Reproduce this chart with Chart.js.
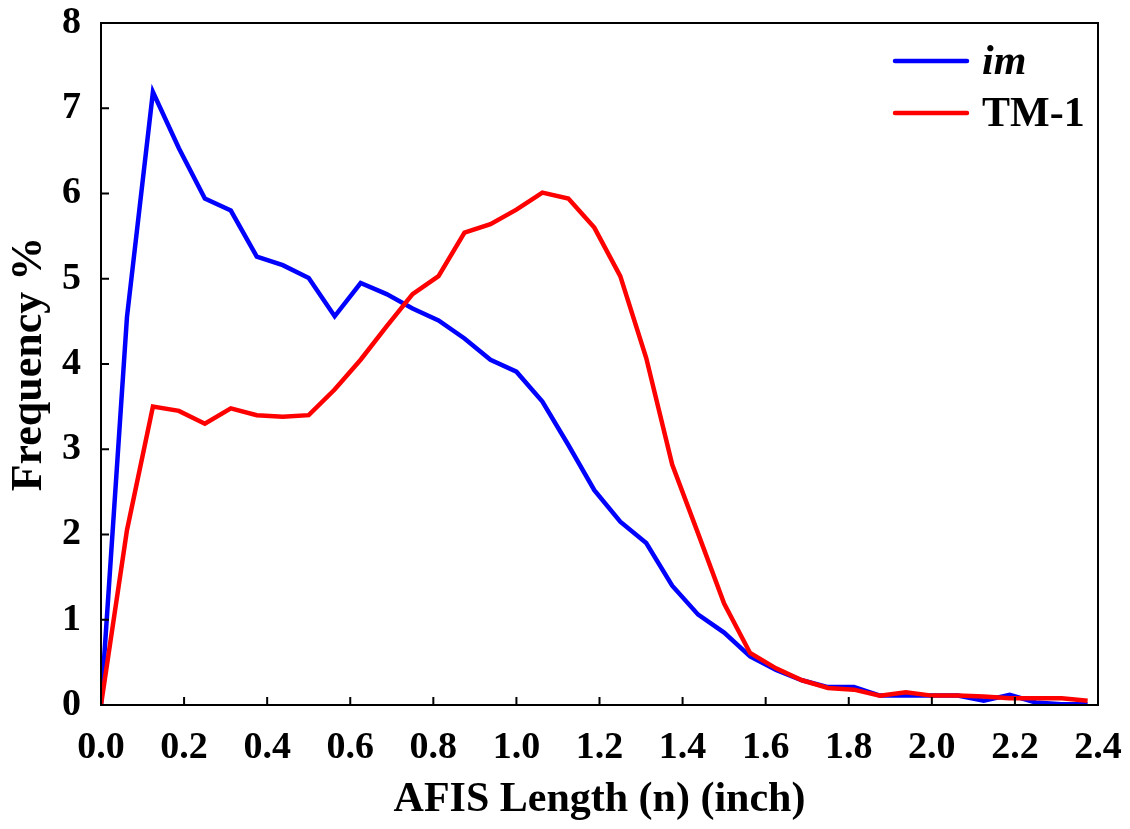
<!DOCTYPE html>
<html>
<head>
<meta charset="utf-8">
<script src="https://cdn.jsdelivr.net/npm/chart.js@4.4.1/dist/chart.umd.min.js"></script>
<style>
  html, body { margin: 0; padding: 0; background: #fff; }
  #wrap { width: 1130px; height: 829px; }
</style>
</head>
<body>
<div id="wrap"><canvas id="afis-chart" width="1130" height="829"></canvas></div>
<script>
// AFIS length bins (inch), 1/16 inch steps
const lengthBins = [0, 0.0625, 0.125, 0.1875, 0.25, 0.3125, 0.375, 0.4375, 0.5, 0.5625,
    0.625, 0.6875, 0.75, 0.8125, 0.875, 0.9375, 1.0, 1.0625, 1.125, 1.1875,
    1.25, 1.3125, 1.375, 1.4375, 1.5, 1.5625, 1.625, 1.6875, 1.75, 1.8125,
    1.875, 1.9375, 2.0, 2.0625, 2.125, 2.1875, 2.25, 2.3125, 2.375];

const imFreq = [0, 4.55, 7.19, 6.53, 5.94, 5.80, 5.26, 5.16, 5.01, 4.56,
    4.95, 4.82, 4.65, 4.51, 4.30, 4.05, 3.91, 3.56, 3.05, 2.52,
    2.15, 1.90, 1.40, 1.06, 0.85, 0.57, 0.41, 0.29, 0.21, 0.21,
    0.11, 0.11, 0.11, 0.11, 0.05, 0.12, 0.03, 0.01, 0.01];

const tm1Freq = [0, 2.05, 3.50, 3.45, 3.30, 3.48, 3.40, 3.38, 3.40, 3.70,
    4.05, 4.44, 4.82, 5.03, 5.54, 5.64, 5.81, 6.01, 5.94, 5.60,
    5.03, 4.07, 2.82, 2.01, 1.19, 0.61, 0.43, 0.29, 0.20, 0.18,
    0.11, 0.15, 0.11, 0.11, 0.10, 0.08, 0.08, 0.08, 0.05];

const seriesLabels = ['im', 'TM-1'];
const seriesColors = ['#0000ff', '#ff0000'];

const xTitle = 'AFIS Length (n) (inch)';
const yTitle = 'Frequency %';

const serif = '"Liberation Serif", "Times New Roman", "DejaVu Serif", serif';

function toPoints(values) {
    return values.map((v, i) => ({ x: lengthBins[i], y: v }));
}

// frame box + inward tick marks
const frameTicks = {
    id: 'frameTicks',
    afterDraw(chart) {
        const { ctx, chartArea: a, scales } = chart;
        ctx.save();
        ctx.strokeStyle = '#000';
        ctx.lineWidth = 2;
        ctx.strokeRect(a.left, a.top, a.right - a.left, a.bottom - a.top);
        ctx.beginPath();
        scales.x.ticks.forEach(t => {
            const px = scales.x.getPixelForValue(t.value);
            ctx.moveTo(px, a.bottom);
            ctx.lineTo(px, a.bottom - 8);
        });
        scales.y.ticks.forEach(t => {
            const py = scales.y.getPixelForValue(t.value);
            ctx.moveTo(a.left, py);
            ctx.lineTo(a.left + 8, py);
        });
        ctx.stroke();
        ctx.restore();
    }
};

// legend in the upper right corner
const cornerLegend = {
    id: 'cornerLegend',
    afterDraw(chart) {
        const { ctx, chartArea: a } = chart;
        ctx.save();
        chart.data.datasets.forEach((ds, i) => {
            const y = a.top + 38 + i * 52;
            const x0 = a.right - 203;
            ctx.strokeStyle = ds.borderColor;
            ctx.lineWidth = 4.5;
            ctx.lineCap = 'round';
            ctx.beginPath();
            ctx.moveTo(x0, y);
            ctx.lineTo(x0 + 72, y);
            ctx.stroke();
            ctx.fillStyle = '#000';
            ctx.textBaseline = 'middle';
            ctx.font = (i === 0 ? 'italic bold ' : 'bold ') + '42px ' + serif;
            ctx.fillText(ds.label, x0 + 87, y + 2);
        });
        ctx.restore();
    }
};

const ctx = document.getElementById('afis-chart').getContext('2d');
new Chart(ctx, {
    type: 'line',
    data: {
        datasets: [
            {
                label: seriesLabels[0],
                data: toPoints(imFreq),
                borderColor: seriesColors[0],
                borderWidth: 4.5,
                pointRadius: 0,
                tension: 0,
                fill: false,
                order: 1
            },
            {
                label: seriesLabels[1],
                data: toPoints(tm1Freq),
                borderColor: seriesColors[1],
                borderWidth: 4.5,
                pointRadius: 0,
                tension: 0,
                fill: false,
                order: 0
            }
        ]
    },
    options: {
        responsive: false,
        animation: false,
        layout: { padding: { top: 23, right: 32, left: 0, bottom: 0 } },
        plugins: {
            legend: { display: false },
            tooltip: { enabled: false }
        },
        scales: {
            x: {
                type: 'linear',
                min: 0,
                max: 2.4,
                grid: { display: false },
                border: { display: false },
                ticks: {
                    stepSize: 0.2,
                    padding: 12,
                    color: '#000',
                    maxRotation: 0,
                    font: { family: serif, size: 38, weight: 'bold' },
                    callback: v => v.toFixed(1)
                },
                title: {
                    display: true,
                    text: xTitle,
                    color: '#000',
                    padding: { top: 8, bottom: 8 },
                    font: { family: serif, size: 42, weight: 'bold', lineHeight: 1 }
                },
                afterFit: s => {
                    s.height = 124;
                    s.paddingLeft = 0;
                    s.paddingRight = 0;
                }
            },
            y: {
                min: 0,
                max: 8,
                grid: { display: false },
                border: { display: false },
                ticks: {
                    stepSize: 1,
                    padding: 12,
                    color: '#000',
                    font: { family: serif, size: 38, weight: 'bold' }
                },
                title: {
                    display: true,
                    text: yTitle,
                    color: '#000',
                    padding: { top: 8, bottom: 8 },
                    font: { family: serif, size: 44, weight: 'bold', lineHeight: 1 }
                },
                afterFit: s => {
                    s.width = 101;
                    s.paddingTop = 0;
                    s.paddingBottom = 0;
                }
            }
        }
    },
    plugins: [frameTicks, cornerLegend]
});
</script>
</body>
</html>
